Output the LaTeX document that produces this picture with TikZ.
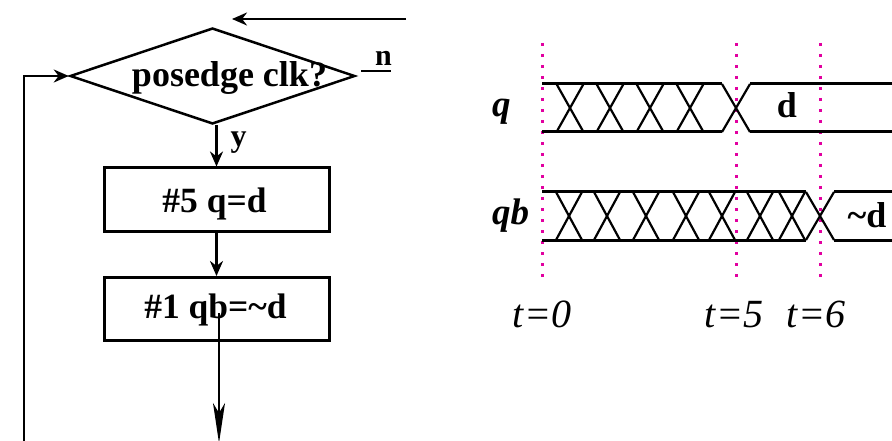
\documentclass[tikz,border=0pt]{standalone}
\usepackage{fontspec}
\setmainfont{Liberation Serif}
\usetikzlibrary{shapes.geometric,arrows.meta}
\definecolor{mag}{RGB}{225,0,160}
\begin{document}
\begin{tikzpicture}[x=1pt,y=-1pt,
  fc/.style={line width=2.5pt},
  boxn/.style={draw,line width=3pt,minimum width=225pt,minimum height=63pt,inner sep=0pt},
  lbl/.style={font=\bfseries\fontsize{35.5}{40}\selectfont,inner sep=0pt,anchor=base},
  sig/.style={line width=3pt},
  xs/.style={line width=2.2pt},
  tick/.style={mag,line width=3pt,dash pattern=on 3pt off 8pt},
  arr/.style={-{Stealth[length=15pt,width=13pt]}},
  thinarr/.style={line width=1.5pt,-{Stealth[length=40pt,width=12pt,inset=10pt]}}
]
\useasboundingbox (0,0) rectangle (892,441);
% ---------- flowchart ----------
\node[diamond,draw,fc,minimum width=285pt,minimum height=96pt,inner sep=0pt] (dia) at (212.5,76) {};
\node[lbl,font=\bfseries\fontsize{36}{40}\selectfont] (diat) at (229.5,87) {posedge clk?};
\node[boxn] (b1) at (216.5,199.5) {};
\node[lbl] (b1t) at (214.5,212) {\#5 q=d};
\node[boxn] (b2) at (216.5,309) {};
\node[lbl] (b2t) at (215.5,318) {\#1 qb=\char`\~d};
\coordinate (tr) at (406,19);
\coordinate (tl) at (232,19);
\draw[fc,arr] (tr) -- (tl);
\coordinate (lb) at (24,441);
\draw[fc,arr] (lb) |- (dia.west);
\coordinate (n1) at (361,71);
\coordinate (n2) at (391,71);
\draw[line width=2pt] (n1) -- (n2);
\node[font=\bfseries\fontsize{30}{34}\selectfont,inner sep=0pt,anchor=base] (nl) at (383.5,66) {n};
\draw[fc,arr] (b1.north |- dia.south) -- (b1.north);
\node[font=\bfseries\fontsize{32}{36}\selectfont,inner sep=0pt,anchor=base] (yl) at (238.5,147) {y};
\draw[fc,arr] (b1.south) -- (b2.north);
\coordinate (o1) at (219,313);
\coordinate (o2) at (219,443);
\draw[thinarr] (o1) -- (o2);
% ---------- timing ----------
\foreach \x in {542,736,820} \draw[tick] (\x,43) -- (\x,282);
% q row
\draw[sig] (542,84) -- (722,84) (542,132) -- (722,132);
\foreach \c in {570,610,650,690} \draw[xs] (\c-13.5,84) -- (\c+13.5,132) (\c+13.5,84) -- (\c-13.5,132);
\draw[xs] (722,84) -- (750,132) (722,132) -- (750,84);
\draw[sig] (750,84) -- (892,84) (750,132) -- (892,132);
% qb row
\draw[sig] (542,192) -- (806,192) (542,240) -- (806,240);
\foreach \c in {569,607,646,686,722,760,792} \draw[xs] (\c-13,192) -- (\c+13,240) (\c+13,192) -- (\c-13,240);
\draw[xs] (806,192) -- (834,240) (806,240) -- (834,192);
\draw[sig] (834,192) -- (892,192) (834,240) -- (892,240);
% labels
\node[font=\bfseries\itshape\fontsize{37}{40}\selectfont,inner sep=0pt,anchor=base west] (ql) at (492,117) {q};
\node[font=\bfseries\itshape\fontsize{37}{40}\selectfont,inner sep=0pt,anchor=base west] (qbl) at (492,225) {qb};
\node[font=\bfseries\fontsize{36}{40}\selectfont,inner sep=0pt,anchor=base] (dl) at (787,118) {d};
\node[font=\bfseries\fontsize{36}{40}\selectfont,inner sep=0pt,anchor=base] (ndl) at (867,227) {\char`\~d};
\node[font=\itshape\fontsize{40}{44}\selectfont,inner sep=0pt,anchor=base] (t0) at (542,327) {t=0};
\node[font=\itshape\fontsize{40}{44}\selectfont,inner sep=0pt,anchor=base] (t5) at (734,327) {t=5};
\node[font=\itshape\fontsize{40}{44}\selectfont,inner sep=0pt,anchor=base] (t6) at (816,327) {t=6};
\end{tikzpicture}
\end{document}
